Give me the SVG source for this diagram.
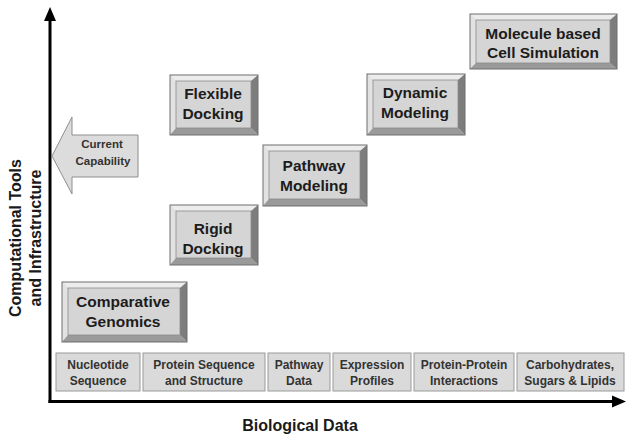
<svg xmlns="http://www.w3.org/2000/svg" width="626" height="436" viewBox="0 0 626 436">
<style>
.face{fill:#d5d5d5;stroke:#8a8a8a;stroke-width:0.8}
.bt{fill:#ececec}
.bl{fill:#e2e2e2}
.br{fill:#7d7d7d}
.bb{fill:#9a9a9a}
.outer{fill:none;stroke:#6e6e6e;stroke-width:1}
.bx{font-family:"Liberation Sans",Arial,sans-serif;font-weight:bold;font-size:15.5px;fill:#1c1c1c;text-anchor:middle}
.cell{fill:#dadada;stroke:#9a9a9a;stroke-width:1}
.ct{font-family:"Liberation Sans",Arial,sans-serif;font-weight:bold;font-size:12px;fill:#333;text-anchor:middle}
.ax{font-family:"Liberation Sans",Arial,sans-serif;font-weight:bold;font-size:16px;fill:#1a1a1a;text-anchor:middle}
.axis{stroke:#000;stroke-width:3;fill:none}
</style>
<rect width="626" height="436" fill="#fff"/>
<g id="connectors">
<line class="axis" x1="50" y1="403" x2="50" y2="18"/>
<polygon points="50,7 44,21 56,21" fill="#000"/>
<line class="axis" x1="48.5" y1="401.5" x2="614" y2="401.5"/>
<polygon points="626,401.5 612,395.5 612,407.5" fill="#000"/>
</g>
<g id="axis-y-label">
<text class="ax" transform="translate(21,238) rotate(-90)">Computational Tools</text>
<text class="ax" transform="translate(41,238) rotate(-90)">and Infrastructure</text>
</g>
<g id="axis-x-label">
<text class="ax" x="300" y="431">Biological Data</text>
</g>
<g id="current-capability">
<polygon points="52,156 72,117 72,135 138,135 138,177 72,177 72,194" fill="#dcdcdc" stroke="#8f8f8f" stroke-width="1"/>
<text class="ct" x="102" y="148" style="font-size:11.5px">Current</text>
<text class="ct" x="103" y="165" style="font-size:11.5px">Capability</text>
</g>
<g id="flexible-docking">
<rect x="170" y="75" width="88" height="60" fill="#d5d5d5"/>
<polygon class="bt" points="170,75 258,75 252,81 176,81"/>
<polygon class="bl" points="170,75 176,81 176,129 170,135"/>
<polygon class="br" points="258,75 258,135 251,128 251,81"/>
<polygon class="bb" points="170,135 258,135 251,128 176,128"/>
<rect class="face" x="176" y="81" width="75" height="47"/>
<rect class="outer" x="170" y="75" width="88" height="60"/>
<text class="bx" x="213" y="99">Flexible</text>
<text class="bx" x="213" y="119">Docking</text>
</g>
<g id="dynamic-modeling">
<rect x="367" y="74" width="98" height="61" fill="#d5d5d5"/>
<polygon class="bt" points="367,74 465,74 458,80 373,80"/>
<polygon class="bl" points="367,74 373,80 373,128 367,135"/>
<polygon class="br" points="465,74 465,135 458,128 458,80"/>
<polygon class="bb" points="367,135 465,135 458,128 373,128"/>
<rect class="face" x="373" y="80" width="85" height="48"/>
<rect class="outer" x="367" y="74" width="98" height="61"/>
<text class="bx" x="415" y="98">Dynamic</text>
<text class="bx" x="415" y="118">Modeling</text>
</g>
<g id="molecule-cell-simulation">
<rect x="470" y="14" width="147" height="55" fill="#d5d5d5"/>
<polygon class="bt" points="470,14 617,14 610,20 476,20"/>
<polygon class="bl" points="470,14 476,20 476,63 470,69"/>
<polygon class="br" points="617,14 617,69 610,63 610,20"/>
<polygon class="bb" points="470,69 617,69 610,63 476,63"/>
<rect class="face" x="476" y="20" width="134" height="43"/>
<rect class="outer" x="470" y="14" width="147" height="55"/>
<text class="bx" x="543" y="39">Molecule based</text>
<text class="bx" x="543" y="58">Cell Simulation</text>
</g>
<g id="pathway-modeling">
<rect x="263" y="145" width="104" height="61" fill="#d5d5d5"/>
<polygon class="bt" points="263,145 367,145 360,151 269,151"/>
<polygon class="bl" points="263,145 269,151 269,199 263,206"/>
<polygon class="br" points="367,145 367,206 360,199 360,151"/>
<polygon class="bb" points="263,206 367,206 360,199 269,199"/>
<rect class="face" x="269" y="151" width="91" height="48"/>
<rect class="outer" x="263" y="145" width="104" height="61"/>
<text class="bx" x="314" y="171">Pathway</text>
<text class="bx" x="314" y="191">Modeling</text>
</g>
<g id="rigid-docking">
<rect x="170" y="205" width="88" height="60" fill="#d5d5d5"/>
<polygon class="bt" points="170,205 258,205 252,211 176,211"/>
<polygon class="bl" points="170,205 176,211 176,258 170,265"/>
<polygon class="br" points="258,205 258,265 251,258 251,211"/>
<polygon class="bb" points="170,265 258,265 251,258 176,258"/>
<rect class="face" x="176" y="211" width="75" height="47"/>
<rect class="outer" x="170" y="205" width="88" height="60"/>
<text class="bx" x="213" y="234">Rigid</text>
<text class="bx" x="213" y="254">Docking</text>
</g>
<g id="comparative-genomics">
<rect x="62" y="282" width="125" height="60" fill="#d5d5d5"/>
<polygon class="bt" points="62,282 187,282 180,288 68,288"/>
<polygon class="bl" points="62,282 68,288 68,335 62,342"/>
<polygon class="br" points="187,282 187,342 180,335 180,288"/>
<polygon class="bb" points="62,342 187,342 180,335 68,335"/>
<rect class="face" x="68" y="288" width="112" height="47"/>
<rect class="outer" x="62" y="282" width="125" height="60"/>
<text class="bx" x="123" y="307">Comparative</text>
<text class="bx" x="123" y="327">Genomics</text>
</g>
<g id="nucleotide-sequence">
<rect class="cell" x="56" y="353" width="84" height="38"/>
<text class="ct" x="98" y="369">Nucleotide</text>
<text class="ct" x="98" y="385">Sequence</text>
</g>
<g id="protein-sequence-structure">
<rect class="cell" x="143" y="353" width="122" height="38"/>
<text class="ct" x="204" y="369">Protein Sequence</text>
<text class="ct" x="204" y="385">and Structure</text>
</g>
<g id="pathway-data">
<rect class="cell" x="268" y="353" width="62" height="38"/>
<text class="ct" x="299" y="369">Pathway</text>
<text class="ct" x="299" y="385">Data</text>
</g>
<g id="expression-profiles">
<rect class="cell" x="333" y="353" width="78" height="38"/>
<text class="ct" x="372" y="369">Expression</text>
<text class="ct" x="372" y="385">Profiles</text>
</g>
<g id="protein-protein-interactions">
<rect class="cell" x="414" y="353" width="100" height="38"/>
<text class="ct" x="464" y="369">Protein-Protein</text>
<text class="ct" x="464" y="385">Interactions</text>
</g>
<g id="carbohydrates-sugars-lipids">
<rect class="cell" x="517" y="353" width="107" height="38"/>
<text class="ct" x="570" y="369">Carbohydrates,</text>
<text class="ct" x="570" y="385">Sugars &amp; Lipids</text>
</g>
</svg>
